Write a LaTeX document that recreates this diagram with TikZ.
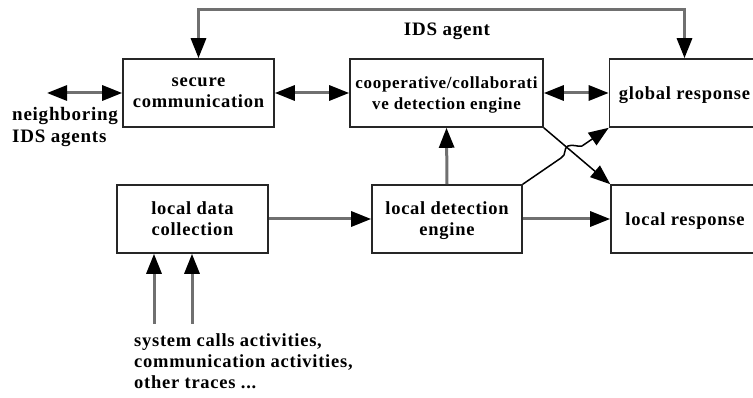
\documentclass[tikz,border=0pt]{standalone}
\usepackage{fontspec}
\setmainfont{Liberation Serif}[LetterSpace=4]
\usetikzlibrary{arrows.meta}
\definecolor{linegray}{HTML}{707070}
\tikzset{
  box/.style={draw=black!85, line width=1.6pt, minimum height=68pt, align=center,
    inner sep=1pt, text depth=-2pt, font=\fontsize{18.5}{21}\selectfont\bfseries},
  flow/.style={draw=linegray, line width=3pt, -{Triangle[length=20pt, width=15pt, color=black]}},
  flow2/.style={draw=linegray, line width=3pt, {Triangle[length=20pt, width=15pt, color=black]}-{Triangle[length=20pt, width=15pt, color=black]}},
  thin/.style={draw=black, line width=1.5pt, -{Triangle[length=20pt, width=15pt, color=black]}},
  lbl/.style={font=\fontsize{19}{22}\selectfont\bfseries, align=left, inner sep=0pt}
}
\begin{document}
\begin{tikzpicture}[x=1pt, y=-1pt]
  \useasboundingbox (0,0) rectangle (753,398);
  \begin{scope}
    \clip (0,0) rectangle (753,398);
    % upper row
    \node[box, minimum width=151pt] (sec) at (198.5,93) {secure\\communication};
    \node[box, minimum width=193pt, font=\fontsize{17}{21}\selectfont\bfseries] (coop) at (446.5,93) {cooperative/collaborati\\ve detection engine};
    \node[box, minimum width=150pt] (glob) at (684.5,93) {global response};
    % lower row
    \node[box, minimum width=151pt] (ldc) at (192.5,219) {local data\\collection};
    \node[box, minimum width=150pt] (lde) at (447,219) {local detection\\engine};
    \node[box, minimum width=148pt] (lres) at (685,219) {local response};
  \end{scope}

  % labels
  \node[lbl, anchor=base] (agent) at (447,36) {IDS agent};
  \node[lbl, anchor=north west] (nbl) at (12,107) {neighboring\\IDS agents};
  \node[lbl, anchor=north west, font=\fontsize{18.5}{21}\selectfont\bfseries] (src) at (134,333)
    {system calls activities,\\communication activities,\\other traces ...};

  % free ends
  \coordinate (nb) at (47,93);
  \coordinate (top) at (0,10);
  \coordinate (in1) at (154,324);
  \coordinate (in2) at (192,324);

  % connectors
  \draw[flow2] (sec.north) -- (sec.north |- top) -- (glob.north |- top) -- (glob.north);
  \draw[flow2] (nb) -- (sec.west);
  \draw[flow2] (sec.east) -- (coop.west);
  \draw[flow2] (coop.east) -- (glob.west);
  \draw[flow] (lde.north) -- (coop.south);
  \draw[flow] (ldc.east) -- (ldc.east -| lde.west);
  \draw[flow] (lde.east) -- (lres.west);
  \draw[flow] (in1) -- (in1 |- ldc.south);
  \draw[flow] (in2) -- (in2 |- ldc.south);
  \draw[thin] (coop.south east) -- (lres.north west);
  \draw[thin] (lde.north east) -- (561,158) .. controls (567,155) and (563,148) .. (568,146)
    .. controls (573,144) and (577,147) .. (582,146) -- (glob.south west);
\end{tikzpicture}
\end{document}
